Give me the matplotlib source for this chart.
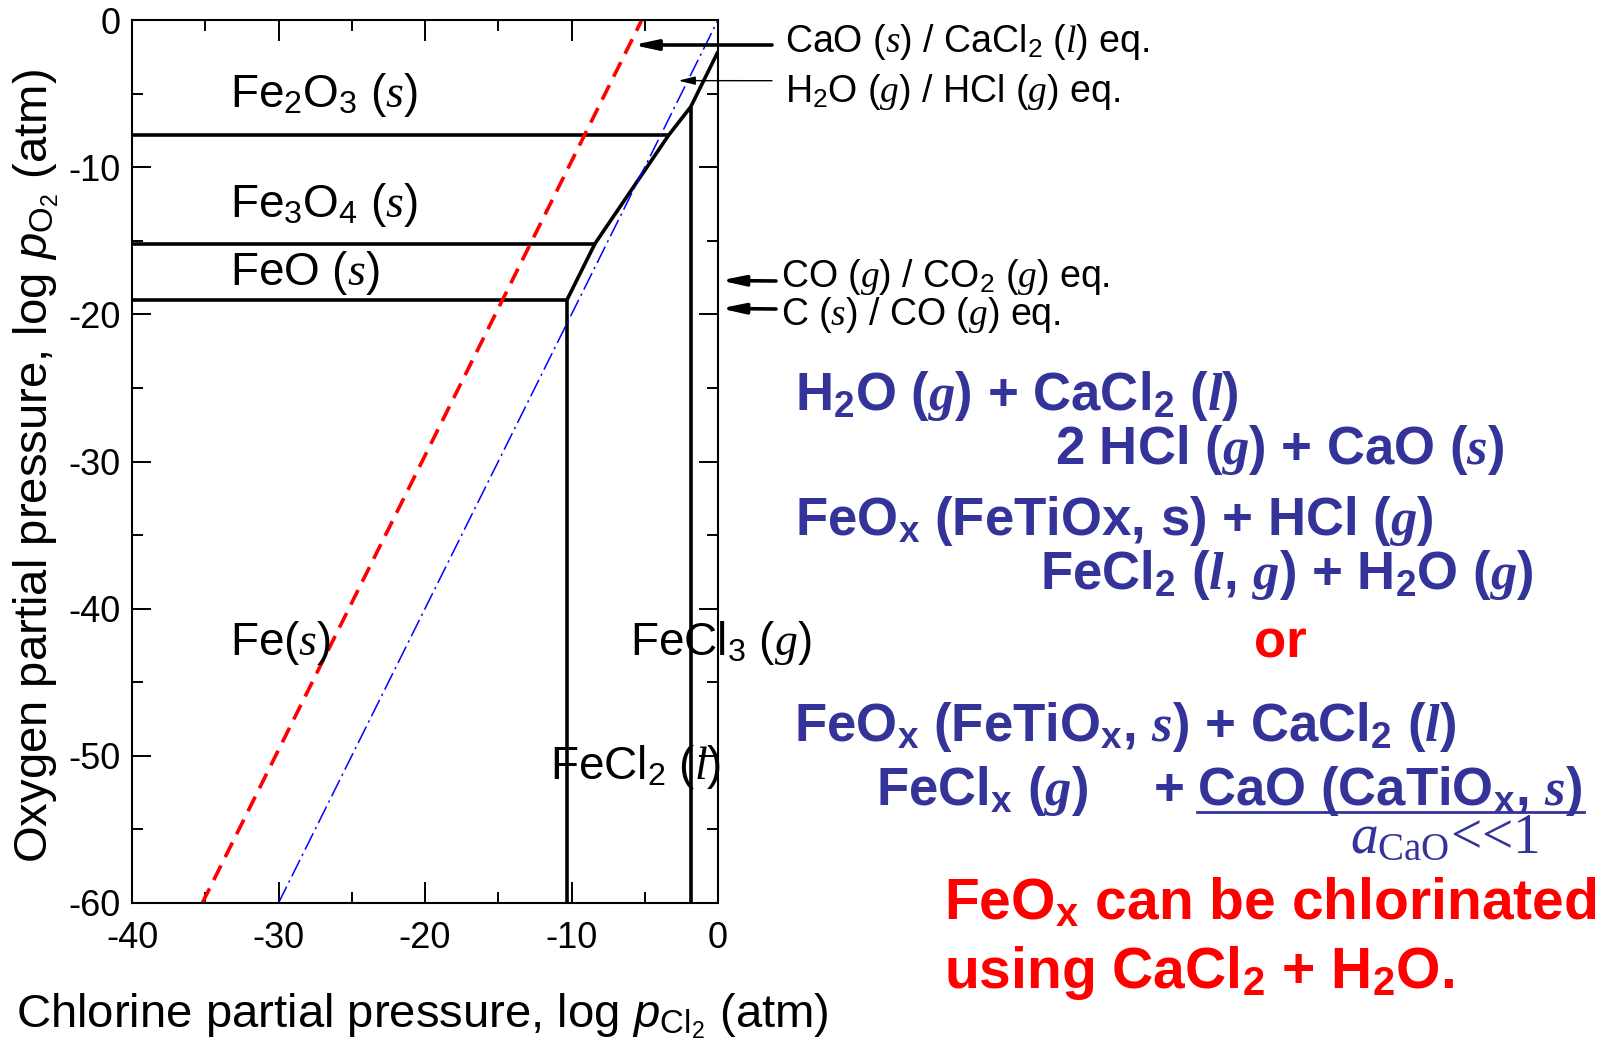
import matplotlib
matplotlib.use("Agg")
import matplotlib.pyplot as plt
import matplotlib._mathtext as _mt
from matplotlib.ticker import MultipleLocator
from matplotlib.lines import Line2D

# deeper subscripts, closer to the reference typesetting
_mt.FontConstantsBase.subdrop = 0.58

# ---------------- data (log pCl2, log pO2) ----------------
fe2o3_fe3o4_x = [-40, -3.35]
fe2o3_fe3o4_y = [-7.8, -7.8]
fe3o4_feo_x = [-40, -8.4]
fe3o4_feo_y = [-15.2, -15.2]
feo_fe_x = [-40, -10.3]
feo_fe_y = [-19.0, -19.0]
oxide_chloride_x = [-10.3, -8.4, -3.35, -1.86, 0.0]
oxide_chloride_y = [-19.0, -15.2, -7.8, -5.9, -2.15]
fe_fecl2_x = [-10.3, -10.3]
fe_fecl2_y = [-19.0, -60.0]
fecl2_fecl3_x = [-1.86, -1.86]
fecl2_fecl3_y = [-5.9, -60.0]
cao_cacl2_x = [-35.2, -5.2]
cao_cacl2_y = [-60.0, 0.0]
h2o_hcl_x = [-30.0, 0.0]
h2o_hcl_y = [-60.0, 0.0]

x_ticks = [-40, -30, -20, -10, 0]
y_ticks = [0, -10, -20, -30, -40, -50, -60]

region_labels = [r"Fe$_2$O$_3$ ($s$)", r"Fe$_3$O$_4$ ($s$)", r"FeO ($s$)",
                 r"Fe($s$)", r"FeCl$_3$ ($g$)", r"FeCl$_2$ ($l$)"]
eq_labels = [r"CaO ($s$) / CaCl$_2$ ($l$) eq.", r"H$_2$O ($g$) / HCl ($g$) eq.",
             r"CO ($g$) / CO$_2$ ($g$) eq.", r"C ($s$) / CO ($g$) eq."]
eq_targets_x = [-5.8, -2.7, 0.17, 0.17]
eq_targets_y = [-1.7, -4.12, -17.7, -19.6]

# ---------------- style ----------------
plt.rcParams.update({
    "font.family": ["Liberation Sans", "DejaVu Sans"],
    "axes.unicode_minus": False,
    "mathtext.fontset": "custom",
    "mathtext.rm": "Liberation Sans",
    "mathtext.it": "Liberation Serif:italic",
    "mathtext.bf": "Liberation Sans:bold",
    "mathtext.bfit": "Liberation Serif:bold:italic",
    "mathtext.sf": "Liberation Sans:italic",
    "mathtext.cal": "Liberation Serif",
})

W, H = 1617, 1046
fig = plt.figure(figsize=(W / 100, H / 100), dpi=100)


def fx(px):
    return px / W


def fy(py):
    return 1 - py / H


ax = fig.add_axes([fx(132), fy(903), (718 - 132) / W, (903 - 20) / H])
blk = dict(color="black", lw=2.6, solid_capstyle="butt", solid_joinstyle="miter")
ax.plot(fe2o3_fe3o4_x, fe2o3_fe3o4_y, **blk)
ax.plot(fe3o4_feo_x, fe3o4_feo_y, **blk)
ax.plot(feo_fe_x, feo_fe_y, **blk)
ax.plot(oxide_chloride_x, oxide_chloride_y, **blk)
ax.plot(fe_fecl2_x, fe_fecl2_y, **blk)
ax.plot(fecl2_fecl3_x, fecl2_fecl3_y, **blk)
ax.plot(cao_cacl2_x, cao_cacl2_y, color="#ff0000", lw=2.6, dashes=(4.5, 2.6))
ax.plot(h2o_hcl_x, h2o_hcl_y, color="#0000ff", lw=1.1, dashes=(12, 3, 1.5, 3))

ax.set_xlim(-40, 0)
ax.set_ylim(-60, 0)
ax.set_xticks(x_ticks)
ax.set_yticks(y_ticks)
ax.xaxis.set_minor_locator(MultipleLocator(5))
ax.yaxis.set_minor_locator(MultipleLocator(5))
ax.tick_params(which="both", direction="in", top=True, right=True, width=1.4)
ax.tick_params(axis="x", which="major", length=15, labelsize=26, pad=13)
ax.tick_params(axis="y", which="major", length=14, labelsize=26, pad=8)
ax.tick_params(which="minor", length=8)
for s in ax.spines.values():
    s.set_linewidth(1.5)

ax.set_xlabel(r"Chlorine partial pressure, log $\mathsf{p}_{\mathrm{Cl_2}}$ (atm)", fontsize=34)
ax.xaxis.set_label_coords((422 - 132) / 586, (903 - 1027) / 883)
ax.xaxis.label.set_va("baseline")
ax.set_ylabel(r"Oxygen partial pressure, log $\mathsf{p}_{\mathrm{O_2}}$ (atm)", fontsize=34)
ax.yaxis.set_label_coords((36 - 132) / 586, (903 - 466) / 883)
ax.yaxis.label.set_va("center")

# region labels (left x, baseline y in pixels)
region_pos = [(230, 107), (230, 217), (230, 285), (230, 655), (630, 655), (550, 779)]
for lab, (px, py) in zip(region_labels, region_pos):
    fig.text(fx(px), fy(py), lab, fontsize=33, ha="left", va="baseline")

# equilibrium arrows + labels
arrow_start = [(772, 45), (772, 80.7), (776, 281), (776, 309)]
arrow_lw = [2.6, 1.0, 2.6, 2.6]
arrow_style = ["-|>,head_length=1.4,head_width=0.3", "-|>,head_length=1.0,head_width=0.25",
               "-|>,head_length=1.4,head_width=0.3", "-|>,head_length=1.4,head_width=0.3"]
label_pos = [(785, 52), (785, 102), (781, 287), (781, 325)]
for i in range(4):
    ax.annotate("", xy=(eq_targets_x[i], eq_targets_y[i]), xycoords="data",
                xytext=(fx(arrow_start[i][0]), fy(arrow_start[i][1])),
                textcoords="figure fraction", annotation_clip=False,
                arrowprops=dict(arrowstyle=arrow_style[i], lw=arrow_lw[i], color="black",
                                shrinkA=0, shrinkB=0))
    fig.text(fx(label_pos[i][0]), fy(label_pos[i][1]), eq_labels[i], fontsize=27,
             ha="left", va="baseline")

# reaction text
blue = "#333399"
bkw = dict(fontsize=38, color=blue, fontweight="bold", ha="left", va="baseline")
fig.text(fx(795), fy(410), r"H$_\mathbf{2}$O ($\mathbfit{g}$) + CaCl$_\mathbf{2}$ ($\mathbfit{l}$)", **bkw)
fig.text(fx(1055), fy(464), r"2 HCl ($\mathbfit{g}$) + CaO ($\mathbfit{s}$)", **bkw)
fig.text(fx(795), fy(535), r"FeO$_\mathbf{x}$ (FeTiOx, s) + HCl ($\mathbfit{g}$)", **bkw)
fig.text(fx(1040), fy(589), r"FeCl$_\mathbf{2}$ ($\mathbfit{l}$, $\mathbfit{g}$) + H$_\mathbf{2}$O ($\mathbfit{g}$)", **bkw)
fig.text(fx(1254), fy(658), "or", fontsize=38, color="#ff0000", fontweight="bold",
         ha="left", va="baseline")
fig.text(fx(794), fy(741), r"FeO$_\mathbf{x}$ (FeTiO$_\mathbf{x}$, $\mathbfit{s}$) + CaCl$_\mathbf{2}$ ($\mathbfit{l}$)", **bkw)
fig.text(fx(876), fy(805), r"FeCl$_\mathbf{x}$ ($\mathbfit{g}$)", **bkw)
fig.text(fx(1154), fy(805), "+", **bkw)
fig.text(fx(1197), fy(805), r"CaO (CaTiO$_\mathbf{x}$, $\mathbfit{s}$)", **bkw)
fig.add_artist(Line2D([fx(1197), fx(1584)], [fy(812), fy(812)], color=blue, lw=2.0))
fig.text(fx(1350), fy(853), r"$a_{\mathcal{CaO}}$<<1", fontsize=40, color=blue,
         family="Liberation Serif", ha="left", va="baseline")

rkw = dict(fontsize=41, color="#ff0000", fontweight="bold", ha="left", va="baseline")
fig.text(fx(944), fy(919), r"FeO$_\mathbf{x}$ can be chlorinated", **rkw)
fig.text(fx(944), fy(988), r"using CaCl$_\mathbf{2}$ + H$_\mathbf{2}$O.", **rkw)

fig.savefig("out.png", dpi=100)
